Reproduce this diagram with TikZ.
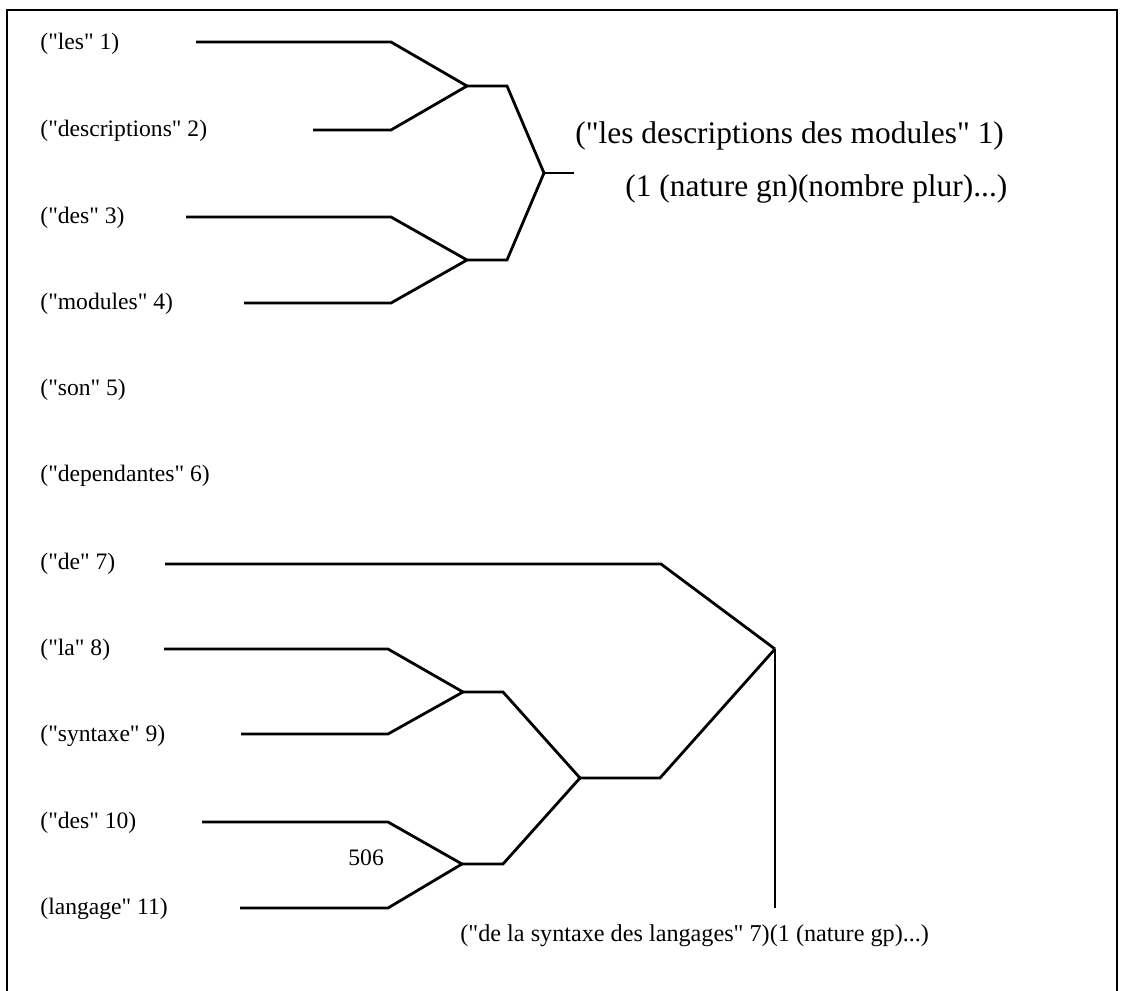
\documentclass[tikz,border=0pt]{standalone}
\usepackage{fontspec}
\setmainfont{Liberation Serif}[Ligatures=TeXOff]
\usetikzlibrary{positioning}
\tikzstyle{wire}  = [draw, line width=1.4pt, line join=miter]
\tikzstyle{word}  = [anchor=west, inner sep=0pt, font=\fontsize{11.8}{14}\selectfont]
\tikzstyle{big}   = [anchor=west, inner sep=0pt, font=\fontsize{15.7}{18}\selectfont]

\begin{document}
\begin{tikzpicture}[x=0.5pt, y=-0.5pt]

    \useasboundingbox (0,0) rectangle (1121,991);
    \draw[line width=1pt] (7,991) -- (7,10) -- (1117,10) -- (1117,991);

    % words
    \node[word] (w1)  at (40,44)  {("les" 1)};
    \node[word] (w2)  at (40,131) {("descriptions" 2)};
    \node[word] (w3)  at (40,218) {("des" 3)};
    \node[word] (w4)  at (40,304) {("modules" 4)};
    \node[word] (w5)  at (40,390) {("son" 5)};
    \node[word] (w6)  at (40,476) {("dependantes" 6)};
    \node[word] (w7)  at (40,564) {("de" 7)};
    \node[word] (w8)  at (40,650) {("la" 8)};
    \node[word] (w9)  at (40,736) {("syntaxe" 9)};
    \node[word] (w10) at (40,823) {("des" 10)};
    \node[word] (w11) at (40,909) {(langage" 11)};

    % first tree
    \coordinate (s1) at (196,42);  \coordinate (c1) at (391,42);
    \coordinate (s2) at (313,130); \coordinate (c2) at (391,130);
    \coordinate (s3) at (186,217); \coordinate (c3) at (391,217);
    \coordinate (s4) at (244,303); \coordinate (c4) at (391,303);
    \coordinate (j12) at (467,86);  \coordinate (k12) at (507,86);
    \coordinate (j34) at (467,260); \coordinate (k34) at (507,260);
    \coordinate (top) at (544,173); \coordinate (out1) at (574,173);

    \draw[wire] (s1) -- (c1) -- (j12);
    \draw[wire] (s2) -- (c2) -- (j12);
    \draw[wire] (s3) -- (c3) -- (j34);
    \draw[wire] (s4) -- (c4) -- (j34);
    \draw[wire] (j12) -- (k12) -- (top);
    \draw[wire] (j34) -- (k34) -- (top);
    \draw[wire] (top) -- (out1);

    \node[big] (gn)  at (575,136) {("les descriptions des modules" 1)};
    \node[big] (gn2) at (625,189) {(1 (nature gn)(nombre plur)...)};

    % second tree
    \coordinate (s7)  at (165,564); \coordinate (c7)  at (661,564);
    \coordinate (s8)  at (164,649); \coordinate (c8)  at (388,649);
    \coordinate (s9)  at (241,734); \coordinate (c9)  at (388,734);
    \coordinate (s10) at (202,822); \coordinate (c10) at (388,822);
    \coordinate (s11) at (240,908); \coordinate (c11) at (388,908);
    \coordinate (j89)   at (463,692); \coordinate (k89)   at (503,692);
    \coordinate (j1011) at (462,864); \coordinate (k1011) at (503,864);
    \coordinate (mid)   at (580,778); \coordinate (kmid)  at (660,778);
    \coordinate (apex)  at (775,649); \coordinate (foot)  at (775,908);

    \draw[wire] (s7) -- (c7) -- (apex);
    \draw[wire] (s8) -- (c8) -- (j89);
    \draw[wire] (s9) -- (c9) -- (j89);
    \draw[wire] (s10) -- (c10) -- (j1011);
    \draw[wire] (s11) -- (c11) -- (j1011);
    \draw[wire] (j89) -- (k89) -- (mid);
    \draw[wire] (j1011) -- (k1011) -- (mid);
    \draw[wire] (mid) -- (kmid) -- (apex);
    \draw[line width=1pt] (apex) -- (foot);

    \node[word] (num) at (348,858) {506};
    \node[word, font=\fontsize{12.1}{14}\selectfont] (gp) at (460,936)
        {("de la syntaxe des langages" 7)(1 (nature gp)...)};

\end{tikzpicture}
\end{document}
